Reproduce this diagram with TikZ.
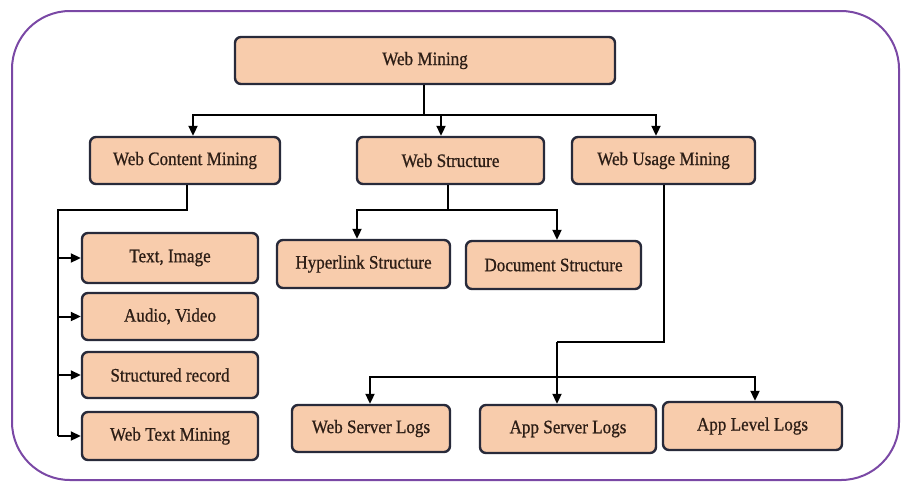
\documentclass[tikz,border=0pt]{standalone}
\usepackage{fontspec}
\setmainfont[FakeStretch=0.9,FakeBold=0.8]{Liberation Serif}
\usetikzlibrary{arrows.meta}
\definecolor{boxfill}{RGB}{248,204,172}
\definecolor{boxline}{RGB}{40,42,58}
\definecolor{frame}{RGB}{122,72,165}
\definecolor{txt}{RGB}{45,30,22}
\tikzset{
  box/.style={draw=boxline, line width=2.4pt, fill=boxfill, rounded corners=6pt,
    text=txt, font=\fontsize{19}{22}\selectfont, inner sep=0pt},
  conn/.style={draw=black, line width=2pt},
  arr/.style={conn, -{Triangle[length=10pt,width=9pt]}},
}
\begin{document}
\begin{tikzpicture}[x=1pt,y=-1pt]
\useasboundingbox (0,0) rectangle (901,483);
\draw[frame, line width=2pt, rounded corners=58pt] (12,11) rectangle (899,480);

\node[box, minimum width=380pt, minimum height=47pt] (wm) at (425,60.5) {Web Mining};
\node[box, minimum width=190pt, minimum height=47pt] (wcm) at (185,160.5) {Web Content Mining};
\node[box, minimum width=187pt, minimum height=47pt] (ws) at (450.5,160.5) {Web Structure};
\node[box, minimum width=183pt, minimum height=47pt] (wum) at (663.5,160.5) {Web Usage Mining};

\node[box, minimum width=176pt, minimum height=50pt] (ti) at (170,258) {Text, Image};
\node[box, minimum width=176pt, minimum height=47pt] (av) at (170,316.5) {Audio, Video};
\node[box, minimum width=176pt, minimum height=46pt] (sr) at (170,375) {Structured record};
\node[box, minimum width=176pt, minimum height=48pt] (wtm) at (170,436) {Web Text Mining};

\node[box, minimum width=173pt, minimum height=48pt] (hs) at (363.5,264) {Hyperlink Structure};
\node[box, minimum width=175pt, minimum height=48pt] (ds) at (553.5,265) {Document Structure};

\node[box, minimum width=158pt, minimum height=47pt] (wsl) at (371,428.5) {Web Server Logs};
\node[box, minimum width=176pt, minimum height=48pt] (asl) at (568,429) {App Server Logs};
\node[box, minimum width=179pt, minimum height=48pt] (all) at (752.5,426) {App Level Logs};

% Web Mining -> second level
\coordinate (j1) at (424,115);
\draw[conn] (wm.south -| j1) -- (j1);
\draw[arr] (j1) -| ([xshift=8pt]wcm.north);
\draw[arr] (j1) -| ([xshift=-9.5pt]ws.north);
\draw[arr] (j1) -| ([xshift=-7.5pt]wum.north);

% Web Content Mining -> left list
\coordinate (j2) at (58,210);
\coordinate (j2b) at (58,436);
\draw[conn] ([xshift=2pt]wcm.south) |- (j2) -- (j2b);
\draw[arr] (ti.west -| j2) -- (ti.west);
\draw[arr] (av.west -| j2) -- (av.west);
\draw[arr] (sr.west -| j2) -- (sr.west);
\draw[arr] (j2b) -- (wtm.west);

% Web Structure -> structures
\coordinate (j3) at (448,210);
\draw[conn] ([xshift=-2.5pt]ws.south) -- (j3);
\draw[arr] (j3) -| ([xshift=-6.5pt]hs.north);
\draw[arr] (j3) -| ([xshift=3.5pt]ds.north);

% Web Usage Mining -> logs
\coordinate (j4) at (557,342);
\coordinate (j5) at (557,377);
\draw[conn] (wum.south) |- (j4);
\draw[arr] (j4) -- ([xshift=-11pt]asl.north);
\draw[arr] (j5) -| ([xshift=-1pt]wsl.north);
\draw[arr] (j5) -| ([xshift=2.5pt]all.north);
\end{tikzpicture}
\end{document}
